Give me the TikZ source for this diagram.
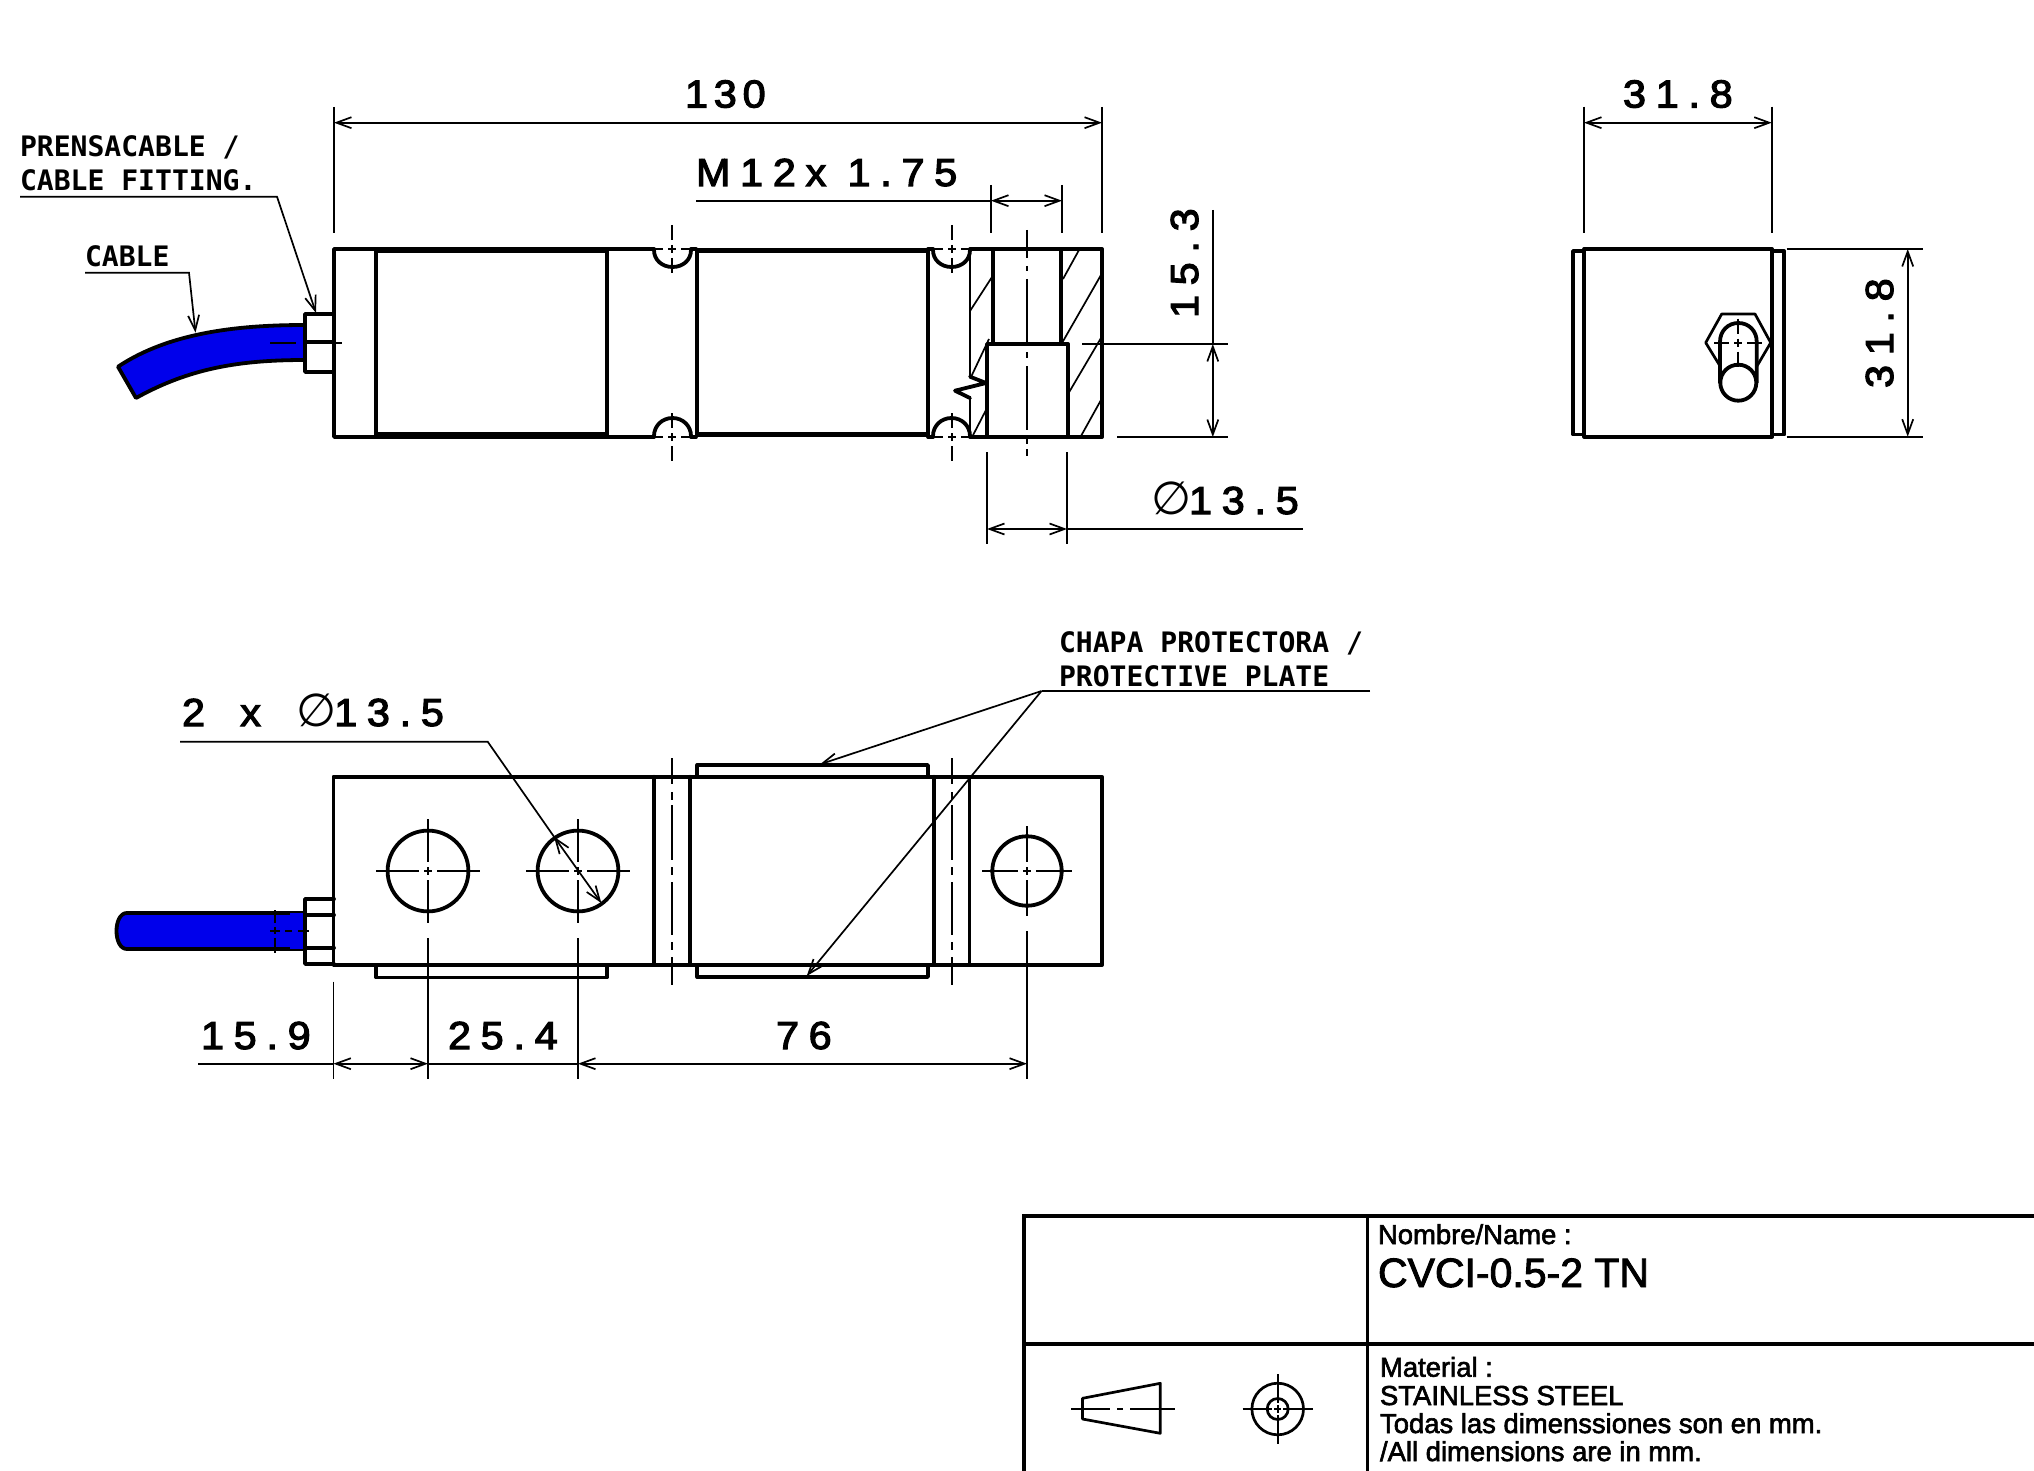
\documentclass[tikz,border=0pt]{standalone}
\usepackage{fontspec}
\usetikzlibrary{arrows.meta}
\newfontfamily\dimfam[LetterSpace=25,FakeStretch=1.06,FakeBold=3]{Liberation Sans}
\newfontfamily\dimtight[LetterSpace=15,FakeStretch=1.06,FakeBold=3]{Liberation Sans}
\newfontfamily\leadfam[FakeStretch=0.995]{DejaVu Sans Mono}
\newfontfamily\titlefam[FakeBold=2.2]{Liberation Sans}
\newfontfamily\phifam{DejaVu Sans}
\newcommand{\dimfs}{\fontsize{19.5}{22}\selectfont}
\newcommand{\phisym}{{\phifam\mdseries\fontsize{23}{26}\selectfont ∅}}
\newcommand{\holemark}[4]{%
  \draw[clin] ({#1-#3},#2)--({#1-9},#2) ({#1-4},#2)--({#1+4},#2) ({#1+9},#2)--({#1+#3},#2);
  \draw[clin] (#1,{#2-#4})--(#1,{#2-9}) (#1,{#2-4})--(#1,{#2+4}) (#1,{#2+9})--(#1,{#2+#4});
}
\tikzset{
  x=0.5pt,y=-0.5pt,
  thk/.style={line width=1.9pt,line join=round,line cap=round},
  med/.style={line width=1.35pt,line join=round},
  thn/.style={line width=0.85pt},
  clin/.style={line width=0.85pt},
  hat/.style={line width=0.85pt},
  dimarrow/.style={line width=0.85pt,>={Straight Barb[length=7.5pt,width=5.5pt]}},
  dimtxt/.style={font=\dimfam\dimfs,anchor=base west,inner sep=0pt,outer sep=0pt},
  leadtxt/.style={font=\leadfam\bfseries\fontsize{14.1}{17}\selectfont,anchor=base west,inner sep=0pt,outer sep=0pt},
  ttxt/.style={font=\titlefam\fontsize{13.72}{16}\selectfont,anchor=base west,inner sep=0pt,outer sep=0pt},
  cablefill/.style={fill={rgb,255:red,0;green,0;blue,235},line width=1.9pt,line join=round},
}
\begin{document}
\begin{tikzpicture}
\fill[white] (0,0) rectangle (2034,1471);
\useasboundingbox (0,0) rectangle (2034,1471);
% ---------- TOP VIEW
% cable
\draw[cablefill] (118,366.7) .. controls (170,332) and (240,325) .. (305,325) -- (305,360) .. controls (240,360) and (190,368) .. (136,398) -- cycle;
% fitting
\draw[thk,fill=white] (334,314) -- (305,314) -- (305,372) -- (334,372);
\draw[thk] (305,342) -- (334,342);
\draw[clin] (270,342.7)--(296,342.7) (305,342.7)--(312,342.7) (318,342.7)--(341.5,342.7);
% body outline
\draw[thk] (654,249) -- (334,249) -- (334,437) -- (654,437);
\draw[thk] (691,249) -- (696,249) (691,437) -- (696,437);
% plates
\draw[thk] (376,250) rectangle (607,435);
\draw[thk] (376,251.5) -- (607,251.5) (376,434) -- (607,434);
\draw[thk] (697,250) rectangle (928,435);
\draw[thk] (697,251.5) -- (928,251.5) (697,434) -- (928,434);
\draw[thk] (928,249) -- (933,249) (928,437) -- (933,437);
% notches
\draw[thk] (654,250) .. controls (654,260) and (662,267) .. (672.5,267) .. controls (683,267) and (691,260) .. (691,250);
\draw[thk] (654,436) .. controls (654,426) and (662,418) .. (672.5,418) .. controls (683,418) and (691,426) .. (691,436);
\draw[thk] (933,250) .. controls (933,260) and (941,267) .. (951.5,267) .. controls (962,267) and (970,260) .. (970,250);
\draw[thk] (933,436) .. controls (933,426) and (941,418) .. (951.5,418) .. controls (962,418) and (970,426) .. (970,436);
\holemark{672}{249}{18}{24}
\holemark{672}{437}{18}{24}
\holemark{952}{249}{18}{24}
\holemark{952}{437}{18}{24}
% section: hatching
\draw[hat] (970,311)--(992,277) (971,377)--(989,339) (972.6,436)--(986,410)
           (1063,279)--(1079,250) (1062,343)--(1101,275) (1068.6,393)--(1101,338) (1081,436)--(1101,400);
% section: outline
\draw[med] (970,376.7) -- (970,249) (970,437) -- (970,398);
\draw[thk] (970,249) -- (1102,249) -- (1102,437) -- (970,437);
\draw[thk] (970,376.7) -- (986,383) -- (955,390.7) -- (970,398);
\draw[thk] (993,249) -- (993,344) (1061,249) -- (1061,344);
\draw[thk] (987,437) -- (987,344) -- (1068,344) -- (1068,437);
\draw[clin] (1027,230)--(1027,258) (1027,266)--(1027,271) (1027,279)--(1027,345)
            (1027,352)--(1027,358) (1027,366)--(1027,430) (1027,438)--(1027,444) (1027,449)--(1027,456);
% dimension 130
\draw[thn] (334,107)--(334,233) (1102,107)--(1102,233);
\draw[dimarrow,<->] (334,122.7)--(1102,122.7);
\node[dimtxt,font=\dimtight\dimfs] (t130) at (685,107.5) {130};
% dimension M12
\draw[thn] (991,185)--(991,233) (1062,185)--(1062,233);
\draw[thn] (696,200.7)--(991,200.7);
\draw[dimarrow,<->] (991,200.7)--(1062,200.7);
\node[dimtxt] (tm12) at (696,186) {M12x 1.75};
% dimension 15.3
\draw[thn] (1082,344)--(1228,344) (1117,437)--(1228,437);
\draw[thn] (1212.8,210)--(1212.8,344);
\draw[dimarrow,<->] (1212.8,344)--(1212.8,437);
\node[dimtxt,rotate=90] (t153) at (1198,318) {15.3};
% dimension dia 13.5
\draw[thn] (987,452)--(987,544) (1067,452)--(1067,544);
\draw[dimarrow,<->] (987,529)--(1067,529);
\draw[thn] (1067,529)--(1303,529);
\node[dimtxt] (td1) at (1151,514) {\phisym\hspace{-1pt}13.5};
% leaders
\node[leadtxt] (tpren1) at (20,157) {PRENSACABLE /};
\node[leadtxt] (tpren2) at (20,190.7) {CABLE FITTING.};
\node[leadtxt] (tcab) at (85,266.7) {CABLE};
\draw[dimarrow,->] (20,196.7)--(277,196.7)--(316,313);
\draw[dimarrow,->] (85,272.7)--(189,272.7)--(195.5,332.7);
% ---------- SIDE VIEW
\draw[thk] (1584.3,249) rectangle (1772,436.7);
\draw[thk] (1584,251) -- (1573,251) -- (1573,434.5) -- (1584,434.5);
\draw[thk] (1772,251) -- (1784.3,251) -- (1784.3,434.5) -- (1772,434.5);
\draw[med] (1720,366) -- (1705.7,342.7) -- (1721.7,314) -- (1755,314) -- (1770.7,342.7) -- (1757,366);
\draw[thk] (1720,382.7) -- (1720,341.7) .. controls (1720,331) and (1728,323) .. (1738.3,323) .. controls (1749,323) and (1756.7,331) .. (1756.7,341.7) -- (1756.7,382.7);
\draw[thk,fill=white] (1738.3,382.7) circle[radius=18];
\holemark{1738.3}{342.7}{24}{24}
\draw[clin] (1738.3,352)--(1738.3,365);
\draw[thn] (1584,106.7)--(1584,233) (1771.7,106.7)--(1771.7,233);
\draw[dimarrow,<->] (1584,122.7)--(1771.7,122.7);
\node[dimtxt] (ts1) at (1623,107.5) {31.8};
\draw[thn] (1786.7,249)--(1923,249) (1786.7,436.7)--(1923,436.7);
\draw[dimarrow,<->] (1907.7,249)--(1907.7,436.7);
\node[dimtxt,rotate=90] (ts2) at (1893,388) {31.8};
% ---------- BOTTOM VIEW
\draw[cablefill] (305,913)--(127,913) .. controls (113,913) and (113,949) .. (127,949) -- (305,949);
\fill[cablefill,draw=none] (305,913) rectangle (290,949);
\draw[thk,fill=white] (334,899)--(305,899)--(305,964)--(334,964);
\draw[thk] (305,915)--(334,915) (305,947.7)--(334,947.7);
\draw[clin] (275,910)--(275,923) (275,927)--(275,934) (275,938)--(275,952.7);
\draw[clin] (270,930.7)--(280,930.7) (285,930.7)--(292,930.7) (298,930.7)--(308.6,930.7);
\draw[thk] (697.3,776.7)--(697.3,765)--(928,765)--(928,776.7);
\draw[thk] (697.3,965)--(697.3,977)--(928,977)--(928,965);
\draw[thk] (376,965)--(376,977.5)--(607,977.5)--(607,965);
\draw[thk] (333.5,776.7) rectangle (1102,965);
\draw[thk] (654,776.7)--(654,965) (690,776.7)--(690,965) (934,776.7)--(934,965);
\draw[med] (969.3,776.7)--(969.3,965);
\draw[thk] (428,871) circle[radius=40.4];
\draw[thk] (578,871) circle[radius=40.4];
\draw[thk] (1027,871) circle[radius=34.7];
\holemark{428}{871}{52}{52}
\holemark{578}{871}{52}{52}
\holemark{1027}{871}{45}{45}
\foreach \xx in {672,952}{
  \draw[clin] (\xx,758)--(\xx,784) (\xx,792)--(\xx,800) (\xx,805)--(\xx,860)
   (\xx,867)--(\xx,875) (\xx,882)--(\xx,935) (\xx,942)--(\xx,950) (\xx,957)--(\xx,985);
}
% dimensions bottom
\draw[thn] (333.4,981.7)--(333.4,1079) (428,938)--(428,1079) (578,938)--(578,1079) (1027,931)--(1027,1079);
\draw[thn] (198,1063.7)--(333.4,1063.7);
\draw[dimarrow,<->] (333.4,1063.7)--(428,1063.7);
\draw[thn] (428,1063.7)--(578,1063.7);
\draw[dimarrow,<->] (578,1063.7)--(1027,1063.7);
\node[dimtxt] (tb1) at (201,1049) {15.9};
\node[dimtxt] (tb2) at (448,1049) {25.4};
\node[dimtxt] (tb3) at (776,1049) {76};
% 2 x dia 13.5
\node[dimtxt] (tb4) at (182,726) {2\hspace{7pt} x\hspace{7pt} \phisym\hspace{-1pt}13.5};
\draw[thn] (180,741.7)--(487.7,741.7)--(554,836.7);
\draw[dimarrow,<->] (554,836.7)--(601.3,903);
% protective plate
\node[leadtxt] (tch1) at (1059,652) {CHAPA PROTECTORA /};
\node[leadtxt] (tch2) at (1059,686) {PROTECTIVE PLATE};
\draw[thn] (1370,691)--(1041.5,691);
\draw[dimarrow,->] (1041.5,691)--(820,764.3);
\draw[dimarrow,->] (1041.5,691)--(806.7,976);
% ---------- TITLE BLOCK
\draw[line width=1.9pt] (1023.7,1471)--(1023.7,1216)--(2034,1216);
\draw[line width=1.9pt] (1023.7,1344)--(2034,1344);
\draw[line width=1.6pt] (1367.4,1216)--(1367.4,1471);
\node[ttxt] (n1) at (1378,1244) {Nombre/Name :};
\node[ttxt,font=\titlefam\fontsize{20.5}{24}\selectfont] (n2) at (1378,1287) {CVCI-0.5-2 TN};
\node[ttxt] (n3) at (1380,1376.7) {Material :};
\node[ttxt] (n4) at (1380,1405) {STAINLESS STEEL};
\node[ttxt] (n5) at (1380,1433) {Todas las dimenssiones son en mm.};
\node[ttxt] (n6) at (1380,1461) {/All dimensions are in mm.};
\draw[med] (1082.5,1398.3)--(1160.3,1383.3)--(1160.3,1433.3)--(1082.5,1419)--cycle;
\draw[clin] (1071,1409)--(1110,1409) (1117,1409)--(1123,1409) (1130,1409)--(1174.8,1409);
\draw[med] (1277.7,1409) circle[radius=25.8];
\draw[med] (1277.7,1409) circle[radius=10.5];
\draw[clin] (1242.7,1409)--(1272,1409) (1274,1409)--(1281,1409) (1283,1409)--(1313,1409);
\draw[clin] (1277.7,1374)--(1277.7,1403) (1277.7,1405)--(1277.7,1413) (1277.7,1415)--(1277.7,1444);
\end{tikzpicture}
\end{document}
